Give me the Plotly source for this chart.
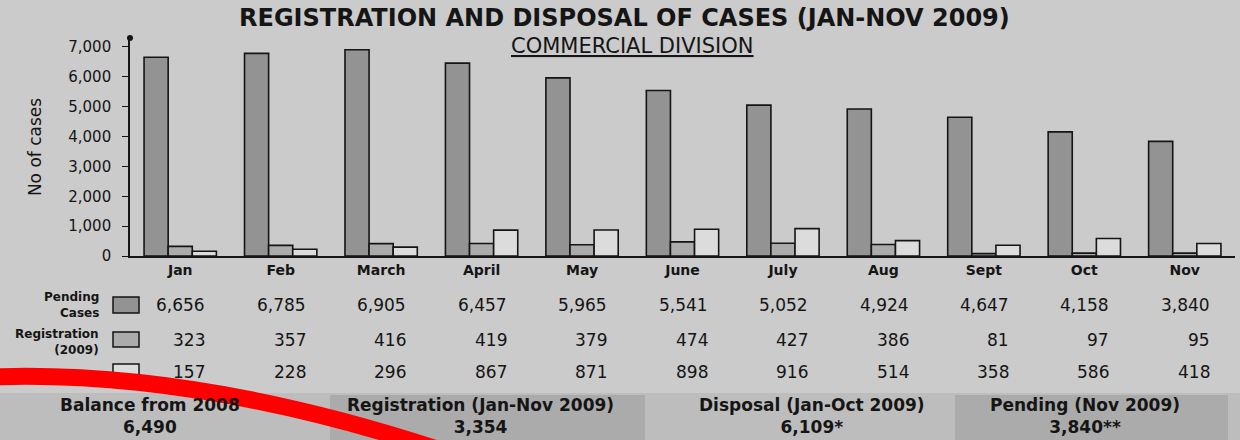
import plotly.graph_objects as go

# ---- data ----
months = ["Jan", "Feb", "March", "April", "May", "June", "July", "Aug", "Sept", "Oct", "Nov"]
pending_cases = [6656, 6785, 6905, 6457, 5965, 5541, 5052, 4924, 4647, 4158, 3840]
registration_2009 = [323, 357, 416, 419, 379, 474, 427, 386, 81, 97, 95]
disposal = [157, 228, 296, 867, 871, 898, 916, 514, 358, 586, 418]

y_ticks = [0, 1000, 2000, 3000, 4000, 5000, 6000, 7000]

summary_labels = ["Balance from 2008", "Registration (Jan-Nov 2009)",
                  "Disposal (Jan-Oct 2009)", "Pending (Nov 2009)"]
summary_values = ["6,490", "3,354", "6,109*", "3,840**"]

# ---- layout constants (pixels) ----
W, H = 1240, 440
ML, MR, MT, MB = 130, 5, 38, 184
FONT = "DejaVu Sans"
INK = "#151515"
BG = "#cbcbcb"
COL_PENDING = "#939393"
COL_REG = "#ababab"
COL_DISP = "#dcdcdc"


def px_x(px):
    return (px - ML) / (W - ML - MR)


def px_y(py):
    return (H - MB - py) / (H - MT - MB)


def note(text, px, py, size, xanchor="center", align="center", **kw):
    return dict(text=text, xref="paper", yref="paper", x=px_x(px), y=px_y(py),
                xanchor=xanchor, yanchor="middle", align=align, showarrow=False,
                font=dict(family=FONT, size=size, color=INK, **kw))


fig = go.Figure()
for name, vals, col in [("Pending Cases", pending_cases, COL_PENDING),
                        ("Registration (2009)", registration_2009, COL_REG),
                        ("Disposal", disposal, COL_DISP)]:
    fig.add_trace(go.Bar(
        x=months, y=vals, name=name,
        marker=dict(color=col, line=dict(color=INK, width=1.6)),
        showlegend=False, hoverinfo="x+y+name",
    ))

shapes = []
annotations = []

# bottom summary band
shapes.append(dict(type="rect", xref="paper", yref="paper", layer="below",
                   x0=px_x(0), x1=px_x(W), y0=px_y(393), y1=px_y(H),
                   fillcolor="#bdbdbd", line=dict(width=0)))
for x0, x1 in [(330, 645), (955, 1228)]:
    shapes.append(dict(type="rect", xref="paper", yref="paper", layer="below",
                       x0=px_x(x0), x1=px_x(x1), y0=px_y(395), y1=px_y(H),
                       fillcolor="#ababab", line=dict(width=0)))

# table legend swatches
for (y0, y1), col in zip([(297, 313), (332, 347), (364, 380)],
                         [COL_PENDING, COL_REG, COL_DISP]):
    shapes.append(dict(type="rect", xref="paper", yref="paper",
                       x0=px_x(113), x1=px_x(139), y0=px_y(y0), y1=px_y(y1),
                       fillcolor=col, line=dict(color=INK, width=1.5)))

# dot at the top of the y axis
shapes.append(dict(type="circle", xref="paper", yref="paper",
                   x0=px_x(127), x1=px_x(133), y0=px_y(35), y1=px_y(41),
                   fillcolor=INK, line=dict(width=0)))

# titles
annotations.append(note("<b>REGISTRATION AND DISPOSAL OF CASES (JAN-NOV 2009)</b>", 624, 18, 24))
annotations.append(note("COMMERCIAL DIVISION", 632, 46, 21, lineposition="under"))

# table row labels
annotations.append(note("<b>Pending</b><br><b>Cases</b>", 101, 305, 12, xanchor="right", align="right"))
annotations.append(note("<b>Registration</b><br><b>(2009)</b>", 101, 342, 12, xanchor="right", align="right"))

# table values
for row, py in [(pending_cases, 305), (registration_2009, 340), (disposal, 372)]:
    for i, v in enumerate(row):
        annotations.append(dict(text=f"{v:,}", xref="x", yref="paper",
                                x=i + 0.27, y=px_y(py), xanchor="right", yanchor="middle",
                                showarrow=False,
                                font=dict(family=FONT, size=17, color=INK)))

# summary band text
for label, val, cx in zip(summary_labels, summary_values, [150, 480, 812, 1085]):
    annotations.append(note(f"<b>{label}</b><br><b>{val}</b>", cx, 416, 17))

# red marker stroke over the scan
p0 = (px_x(-10), px_y(377))
p1 = (px_x(200), px_y(369))
p2 = (px_x(455), px_y(455))
shapes.append(dict(type="path", xref="paper", yref="paper", layer="above",
                   path=f"M {p0[0]},{p0[1]} Q {p1[0]},{p1[1]} {p2[0]},{p2[1]}",
                   line=dict(color="#ff0000", width=17)))

fig.update_layout(
    width=W, height=H,
    margin=dict(l=ML, r=MR, t=MT, b=MB),
    paper_bgcolor=BG, plot_bgcolor=BG,
    barmode="group", bargap=0.28, bargroupgap=0.0,
    font=dict(family=FONT, color=INK),
    shapes=shapes, annotations=annotations,
    xaxis=dict(
        type="category", range=[-0.5, 10.5],
        showline=True, linecolor=INK, linewidth=1.6,
        showgrid=False, ticks="", zeroline=False,
        tickfont=dict(family=FONT, size=14, color=INK, weight="bold"),
        fixedrange=True,
    ),
    yaxis=dict(
        range=[0, 7300], tickvals=y_ticks, tickformat=",",
        showline=True, linecolor=INK, linewidth=1.6,
        ticks="outside", ticklen=6, tickcolor=INK, tickwidth=1.4,
        ticklabelstandoff=8,
        showgrid=False, zeroline=False,
        tickfont=dict(family=FONT, size=15, color=INK),
        title=dict(text="No of cases", standoff=22,
                   font=dict(family=FONT, size=17, color=INK)),
        fixedrange=True,
    ),
)

fig.write_html("out.html", config={"displayModeBar": False},
               post_script="document.body.style.margin='0';")
